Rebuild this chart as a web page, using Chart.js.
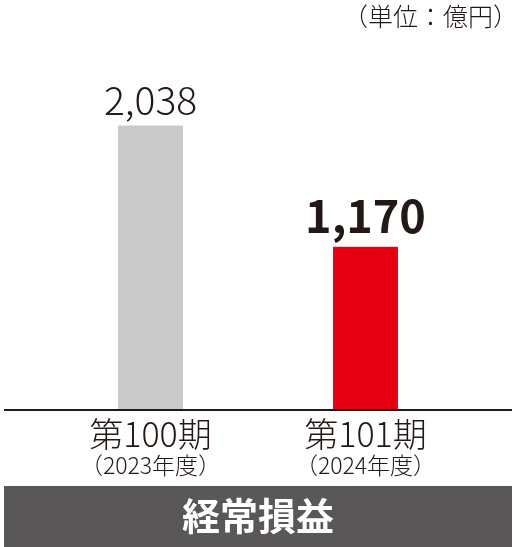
<!DOCTYPE html>
<html lang="ja">
<head>
<meta charset="UTF-8">
<title>経常損益</title>
<script src="https://cdn.jsdelivr.net/npm/chart.js"></script>
<style>
  body { margin: 0; background: #fff; }
  canvas { display: block; }
</style>
</head>
<body>
<canvas id="chart" width="519" height="547"></canvas>
<script>
// data
const periods = ["第100期", "第101期"];
const years = ["（2023年度）", "（2024年度）"];
const values = [2038, 1170];
const unitLabel = "（単位：億円）";
const title = "経常損益";

const barColors = ["#c9c9c9", "#e60012"];
const textColor = "#231815";
const jp = '"Noto Sans CJK JP", "Noto Sans", sans-serif';

// draws baseline, value labels, category labels, unit and bottom band
const decorations = {
  id: "decorations",
  afterDatasetsDraw(chart) {
    const ctx = chart.ctx;
    const area = chart.chartArea;
    const meta = chart.getDatasetMeta(0);
    const x = chart.scales.x;
    ctx.save();

    // baseline
    ctx.strokeStyle = textColor;
    ctx.lineWidth = 2;
    ctx.beginPath();
    ctx.moveTo(4, area.bottom);
    ctx.lineTo(512, area.bottom);
    ctx.stroke();

    // value labels
    ctx.fillStyle = textColor;
    ctx.textAlign = "center";
    ctx.textBaseline = "alphabetic";
    meta.data.forEach((bar, i) => {
      const last = i === values.length - 1;
      ctx.font = last ? "bold 45px " + jp : "300 39px " + jp;
      ctx.fillText(values[i].toLocaleString("en-US"), bar.x, bar.y - (last ? 14 : 10));
    });

    // category labels
    ctx.textBaseline = "middle";
    periods.forEach((p, i) => {
      const cx = x.getPixelForValue(i);
      ctx.font = "300 34px " + jp;
      ctx.fillText(p, cx, 434);
      ctx.font = "300 23px " + jp;
      ctx.fillText(years[i], cx, 465);
    });

    // unit
    ctx.textAlign = "right";
    ctx.font = "300 25px " + jp;
    ctx.fillText(unitLabel, 518, 16);

    // bottom band
    ctx.fillStyle = "#595757";
    ctx.fillRect(4, 486, 508, 61);
    ctx.fillStyle = "#ffffff";
    ctx.textAlign = "center";
    ctx.font = "bold 38px " + jp;
    ctx.fillText(title, 258, 516);

    ctx.restore();
  }
};

new Chart(document.getElementById("chart"), {
  type: "bar",
  data: {
    labels: periods,
    datasets: [{
      data: values,
      backgroundColor: barColors,
      borderWidth: 0,
      categoryPercentage: 1,
      barPercentage: 0.302
    }]
  },
  options: {
    responsive: false,
    animation: false,
    layout: { padding: { top: 40, bottom: 137, left: 43, right: 46 } },
    plugins: { legend: { display: false }, tooltip: { enabled: false } },
    scales: {
      x: { display: false },
      y: { display: false, min: 0, max: 2650 }
    }
  },
  plugins: [decorations]
});
</script>
</body>
</html>
